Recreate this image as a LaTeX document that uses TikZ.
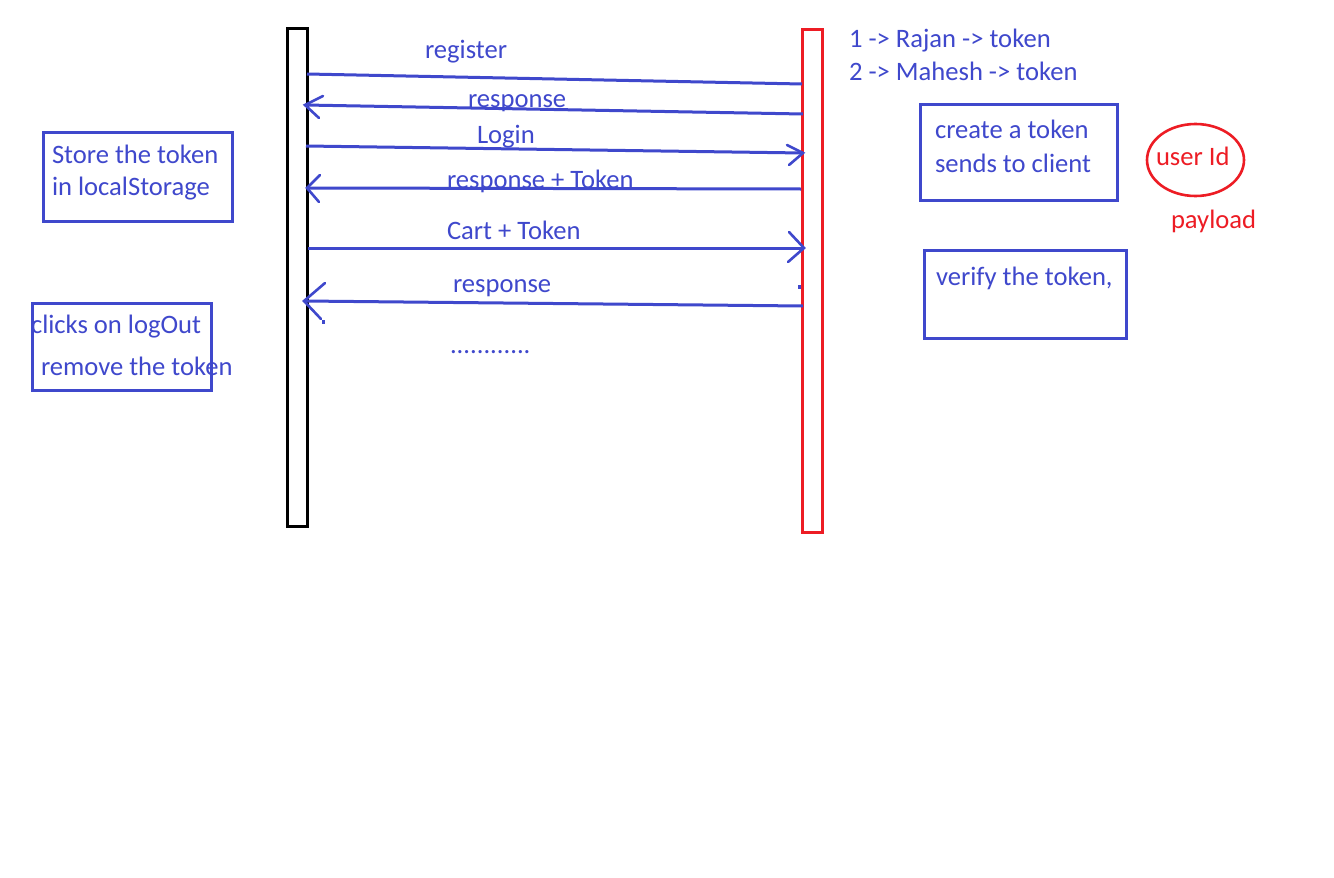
\documentclass[tikz,border=0pt]{standalone}
\usepackage{fontspec}
\setmainfont{Carlito}
\usetikzlibrary{shapes.geometric}
\definecolor{pblue}{HTML}{3F48CC}
\definecolor{pred}{HTML}{ED1C24}
\begin{document}
\begin{tikzpicture}[x=1pt,y=-1pt,
  every node/.style={inner sep=0pt,outer sep=0pt},
  txt/.style={anchor=base west,text=pblue,font=\fontsize{26.6}{33}\selectfont},
  rtxt/.style={anchor=base west,text=pred,font=\fontsize{26.6}{33}\selectfont},
  msg/.style={draw=pblue,line width=3pt},
  head/.style={draw=pblue,line width=2.6pt,line cap=round,line join=miter},
  notebox/.style={draw=pblue,line width=3pt},
  life/.style={line width=3pt}]
\useasboundingbox[fill=white] (0,0) rectangle (1334,878);
% lifelines
\node[life,draw=black,minimum width=20pt,minimum height=498pt] (client) at (297,277) {};
\node[life,draw=pred,minimum width=20pt,minimum height=503pt] (server) at (812.5,280.5) {};
% message end points
\coordinate (r1a) at (307,74);  \coordinate (r1b) at (802,84);
\coordinate (r2a) at (305,105); \coordinate (r2b) at (803,114);
\coordinate (l1a) at (306,146); \coordinate (l1b) at (803,153);
\coordinate (t1a) at (307,188); \coordinate (t1b) at (801,189);
\coordinate (c1a) at (308,248); \coordinate (c1b) at (804,248);
\coordinate (p1a) at (304,301); \coordinate (p1b) at (803,306);
% messages
\draw[msg] (r1a) -- (r1b);
\draw[msg] (r2b) -- (r2a);
\draw[head] (r2a) ++(18,-9) -- (r2a) -- ++(14,13);
\draw[msg] (l1a) -- (l1b);
\draw[head] (l1b) ++(-16,-8) -- (l1b) -- ++(-14,12);
\draw[msg] (t1b) -- (t1a);
\draw[head] (t1a) ++(13,-13) -- (t1a) -- ++(12,14);
\draw[msg] (c1a) -- (c1b);
\draw[head] (c1b) ++(-15,-16) -- (c1b) -- ++(-16,14);
\draw[msg] (p1b) -- (p1a);
\draw[head] (p1a) ++(21,-18) -- (p1a) -- ++(17,18);
\fill[pblue] (322,320) rectangle (325,324);
\fill[pblue] (798,285) rectangle (801,289);
% message labels
\node[txt] (lreg) at (425,58) {register};
\node[txt] (lresp1) at (468,107) {response};
\node[txt] (llogin) at (477,143) {Login};
\node[txt] (lrt) at (447,188) {response + Token};
\node[txt] (lcart) at (447,239) {Cart + Token};
\node[txt] (lresp2) at (453,292) {response};
\node[txt] (ldots) at (450,353) {............};
% server notes
\node[txt] (n1) at (849,47) {1 -> Rajan -> token};
\node[txt] (n2) at (849,80) {2 -> Mahesh -> token};
\node[notebox,minimum width=197pt,minimum height=96pt] (createBox) at (1018.5,152) {};
\node[txt] (create1) at (935,138) {create a token};
\node[txt] (create2) at (935,172) {sends to client};
\node[notebox,minimum width=202pt,minimum height=88pt] (verifyBox) at (1025,294) {};
\node[txt] (verify) at (936,285) {verify the token,};
\node[ellipse,draw=pred,line width=2.6pt,minimum width=97pt,minimum height=72pt] (uid) at (1195.5,160) {};
\node[rtxt] (uidt) at (1156,165) {user Id};
\node[rtxt] (payload) at (1171,228) {payload};
% client notes
\node[notebox,minimum width=189pt,minimum height=89pt] (storeBox) at (137.5,176.5) {};
\node[txt] (store1) at (52,163) {Store the token};
\node[txt] (store2) at (52,195) {in localStorage};
\node[notebox,minimum width=179pt,minimum height=87pt] (logoutBox) at (121.5,346.5) {};
\node[txt] (logout1) at (31,333) {clicks on logOut};
\node[txt] (logout2) at (41,375) {remove the token};
\end{tikzpicture}
\end{document}
